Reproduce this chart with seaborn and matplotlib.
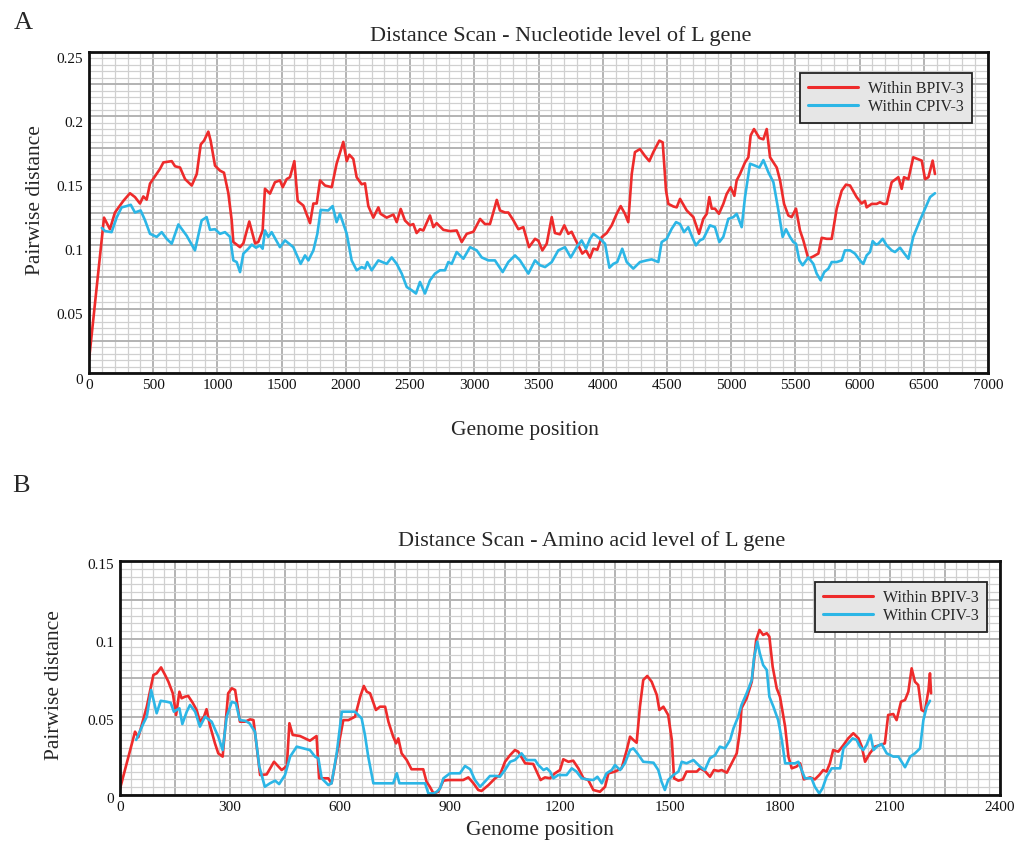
import numpy as np
import pandas as pd
import matplotlib
matplotlib.use("Agg")
import matplotlib.pyplot as plt
import matplotlib.transforms as mtransforms
from matplotlib.ticker import FuncFormatter
import seaborn as sns

# ---------------- data ----------------
series_names = ["Within BPIV-3", "Within CPIV-3"]
series_colors = ["#ee2b2b", "#2cb6e6"]

# Panel A: nucleotide level
a_bpiv_pos = [0, 117, 163, 202, 267, 319, 358, 397, 423, 449, 475, 553, 579, 644, 670, 709, 748, 800, 839, 870,
              896, 929, 947, 981, 1020, 1051, 1085, 1111, 1124, 1176, 1202, 1248, 1293, 1318, 1352, 1370, 1409,
              1448, 1487, 1508, 1539, 1565, 1599, 1625, 1669, 1721, 1747, 1773, 1799, 1838, 1890, 1928, 1980,
              2007, 2027, 2058, 2084, 2123, 2149, 2175, 2214, 2253, 2270, 2318, 2370, 2396, 2427, 2460, 2499,
              2525, 2551, 2577, 2603, 2655, 2681, 2707, 2759, 2811, 2863, 2902, 2941, 2993, 3045, 3083, 3122,
              3148, 3175, 3200, 3239, 3265, 3304, 3343, 3382, 3426, 3473, 3499, 3530, 3564, 3603, 3628, 3667,
              3701, 3732, 3758, 3784, 3810, 3841, 3870, 3901, 3927, 3958, 3992, 4031, 4070, 4109, 4140, 4173,
              4199, 4226, 4251, 4290, 4329, 4363, 4394, 4441, 4467, 4493, 4511, 4550, 4576, 4602, 4654, 4706,
              4750, 4783, 4810, 4830, 4849, 4874, 4905, 4939, 4965, 4996, 5025, 5043, 5069, 5108, 5134, 5152,
              5178, 5220, 5251, 5277, 5303, 5355, 5381, 5412, 5445, 5471, 5505, 5536, 5562, 5601, 5640, 5679,
              5705, 5744, 5783, 5822, 5861, 5894, 5926, 5977, 6016, 6042, 6055, 6094, 6133, 6159, 6185, 6211,
              6250, 6302, 6328, 6346, 6380, 6418, 6450, 6484, 6510, 6536, 6569, 6587]
a_bpiv_dist = [0.010, 0.121, 0.112, 0.125, 0.134, 0.140, 0.137, 0.132, 0.1375, 0.135, 0.1475, 0.159, 0.164,
               0.165, 0.161, 0.160, 0.151, 0.146, 0.155, 0.178, 0.181, 0.188, 0.181, 0.1615, 0.1576, 0.156,
               0.140, 0.119, 0.102, 0.098, 0.101, 0.118, 0.101, 0.102, 0.111, 0.1435, 0.1397, 0.1486, 0.150,
               0.1447, 0.151, 0.1525, 0.165, 0.134, 0.1304, 0.1167, 0.132, 0.132, 0.150, 0.146, 0.1447, 0.163,
               0.180, 0.165, 0.170, 0.1667, 0.1525, 0.147, 0.1477, 0.130, 0.121, 0.129, 0.124, 0.121, 0.1234,
               0.1175, 0.1278, 0.1188, 0.115, 0.116, 0.109, 0.112, 0.111, 0.1227, 0.1136, 0.1167, 0.1115,
               0.1105, 0.111, 0.102, 0.1084, 0.110, 0.120, 0.116, 0.116, 0.125, 0.1348, 0.1266, 0.125, 0.125,
               0.119, 0.112, 0.1136, 0.098, 0.1045, 0.103, 0.0955, 0.1007, 0.1214, 0.109, 0.108, 0.115,
               0.1084, 0.110, 0.1045, 0.0994, 0.093, 0.0955, 0.0898, 0.0968, 0.096, 0.1058, 0.109, 0.115,
               0.124, 0.130, 0.124, 0.1175, 0.155, 0.172, 0.1744, 0.169, 0.165, 0.172, 0.181, 0.1796, 0.142,
               0.1317, 0.1297, 0.129, 0.1356, 0.1266, 0.1214, 0.1084, 0.120, 0.124, 0.137, 0.128, 0.128,
               0.124, 0.1317, 0.1394, 0.1447, 0.138, 0.150, 0.155, 0.164, 0.168, 0.185, 0.190, 0.183, 0.182,
               0.190, 0.168, 0.160, 0.150, 0.1317, 0.1227, 0.1214, 0.128, 0.111, 0.1033, 0.089, 0.0908,
               0.093, 0.1053, 0.1045, 0.1045, 0.128, 0.142, 0.1467, 0.146, 0.137, 0.132, 0.134, 0.129,
               0.1317, 0.1317, 0.133, 0.1317, 0.1317, 0.1486, 0.1525, 0.1434, 0.1525, 0.151, 0.168, 0.1667,
               0.1654, 0.151, 0.1525, 0.1654, 0.155]

a_cpiv_pos = [100, 125, 176, 215, 254, 293, 325, 358, 402, 436, 475, 527, 566, 605, 644, 696, 760, 825, 877,
              916, 942, 981, 1020, 1059, 1098, 1124, 1150, 1176, 1202, 1241, 1267, 1300, 1331, 1352, 1370, 1396,
              1422, 1487, 1526, 1591, 1648, 1682, 1708, 1747, 1778, 1804, 1863, 1897, 1928, 1954, 2007, 2045,
              2084, 2123, 2149, 2167, 2201, 2253, 2318, 2357, 2396, 2435, 2474, 2513, 2546, 2577, 2616, 2655,
              2694, 2733, 2772, 2798, 2824, 2863, 2915, 2967, 3019, 3058, 3109, 3161, 3221, 3265, 3317, 3356,
              3421, 3473, 3512, 3551, 3603, 3654, 3706, 3751, 3797, 3836, 3870, 3901, 3927, 3979, 4018, 4052,
              4083, 4113, 4152, 4187, 4238, 4290, 4342, 4381, 4433, 4459, 4498, 4537, 4571, 4602, 4633, 4666,
              4700, 4726, 4757, 4783, 4835, 4874, 4908, 4939, 4978, 5017, 5043, 5082, 5108, 5147, 5186, 5220,
              5251, 5290, 5329, 5368, 5401, 5427, 5458, 5484, 5505, 5531, 5557, 5601, 5640, 5666, 5697, 5725,
              5757, 5783, 5822, 5861, 5886, 5926, 5964, 6003, 6029, 6055, 6081, 6102, 6128, 6146, 6180, 6211,
              6250, 6276, 6315, 6346, 6380, 6418, 6470, 6510, 6549, 6587]
a_cpiv_dist = [0.113, 0.1105, 0.1097, 0.121, 0.129, 0.130, 0.131, 0.125, 0.1266, 0.119, 0.1084, 0.106,
               0.1097, 0.1045, 0.1007, 0.1157, 0.107, 0.0955, 0.1188, 0.1214, 0.1115, 0.112, 0.1084, 0.1097,
               0.106, 0.0877, 0.0864, 0.0786, 0.093, 0.0968, 0.100, 0.0976, 0.0994, 0.0968, 0.111, 0.106,
               0.1097, 0.098, 0.1033, 0.098, 0.085, 0.0916, 0.0877, 0.0955, 0.1084, 0.127, 0.1266, 0.130,
               0.1175, 0.124, 0.1084, 0.0877, 0.080, 0.0825, 0.0813, 0.0864, 0.080, 0.0877, 0.085, 0.090,
               0.085, 0.0774, 0.067, 0.0644, 0.0619, 0.0709, 0.0619, 0.0722, 0.0774, 0.080, 0.080, 0.0864,
               0.085, 0.0942, 0.089, 0.098, 0.0955, 0.090, 0.0877, 0.0877, 0.0786, 0.0864, 0.0916, 0.0877,
               0.0774, 0.0877, 0.0839, 0.0825, 0.0864, 0.0955, 0.098, 0.090, 0.098, 0.1033, 0.0968, 0.1045,
               0.1084, 0.1045, 0.1007, 0.082, 0.085, 0.0864, 0.0968, 0.0864, 0.0813, 0.0864, 0.0877, 0.0885,
               0.0864, 0.102, 0.1045, 0.1123, 0.1175, 0.116, 0.1097, 0.1136, 0.105, 0.0994, 0.1033, 0.1045,
               0.115, 0.1136, 0.102, 0.106, 0.120, 0.1214, 0.124, 0.1136, 0.137, 0.163, 0.1615, 0.160,
               0.1658, 0.1563, 0.1486, 0.1266, 0.106, 0.112, 0.106, 0.102, 0.1007, 0.0877, 0.0839, 0.090,
               0.085, 0.0774, 0.0722, 0.0786, 0.0813, 0.0864, 0.0864, 0.0877, 0.0955, 0.0955, 0.093, 0.0877,
               0.085, 0.0916, 0.0942, 0.1027, 0.100, 0.1007, 0.1045, 0.0994, 0.0955, 0.0942, 0.0976, 0.0934,
               0.089, 0.106, 0.1188, 0.128, 0.137, 0.140]

# Panel B: amino acid level
b_bpiv_pos = [0, 41, 50, 73, 91, 100, 112, 123, 132, 144, 153, 162, 168, 177, 186, 198, 209, 218, 229, 236,
              245, 259, 268, 280, 295, 305, 314, 327, 341, 355, 364, 374, 382, 400, 420, 441, 455, 462, 471,
              491, 518, 536, 543, 568, 577, 591, 609, 623, 641, 655, 665, 673, 682, 698, 709, 723, 732, 745,
              753, 759, 768, 782, 795, 827, 836, 845, 855, 868, 882, 895, 936, 950, 964, 977, 986, 1005, 1023,
              1036, 1050, 1064, 1077, 1086, 1105, 1127, 1147, 1159, 1173, 1186, 1200, 1209, 1223, 1236, 1250,
              1264, 1277, 1291, 1309, 1323, 1332, 1350, 1368, 1382, 1391, 1400, 1409, 1418, 1427, 1438, 1450,
              1464, 1471, 1482, 1495, 1505, 1511, 1523, 1535, 1545, 1573, 1582, 1595, 1609, 1620, 1632, 1641,
              1655, 1668, 1682, 1691, 1695, 1709, 1723, 1735, 1744, 1754, 1764, 1771, 1780, 1791, 1800, 1814,
              1823, 1832, 1845, 1855, 1865, 1882, 1895, 1907, 1918, 1927, 1936, 1945, 1959, 1973, 1986, 2000,
              2014, 2023, 2032, 2045, 2059, 2073, 2086, 2095, 2109, 2118, 2130, 2141, 2150, 2159, 2168, 2177,
              2186, 2195, 2205, 2209, 2212]
b_bpiv_dist = [0.004, 0.0406, 0.037, 0.0566, 0.0769, 0.078, 0.0818, 0.0769, 0.0726, 0.0652, 0.0513, 0.0662,
               0.062, 0.063, 0.0635, 0.0592, 0.0545, 0.047, 0.0502, 0.055, 0.0449, 0.0331, 0.0267, 0.0246,
               0.0652, 0.0684, 0.0673, 0.047, 0.047, 0.0485, 0.048, 0.0288, 0.0128, 0.0132, 0.0213, 0.016,
               0.0186, 0.046, 0.0385, 0.0378, 0.0348, 0.0378, 0.0107, 0.0107, 0.0075, 0.0256, 0.048, 0.048,
               0.0502, 0.063, 0.0699, 0.0662, 0.0652, 0.0545, 0.0566, 0.0566, 0.047, 0.0374, 0.0331, 0.0363,
               0.0267, 0.0224, 0.0165, 0.0165, 0.0085, 0.0053, 0.001, 0.0021, 0.0092, 0.0096, 0.0096, 0.0113,
               0.0075, 0.0032, 0.0026, 0.0064, 0.0107, 0.0128, 0.0213, 0.0256, 0.0288, 0.0278, 0.0203, 0.0199,
               0.0096, 0.0113, 0.0107, 0.0139, 0.016, 0.0229, 0.0213, 0.022, 0.0171, 0.0107, 0.0096, 0.0032,
               0.0021, 0.0053, 0.0139, 0.015, 0.0171, 0.0288, 0.0374, 0.0353, 0.0335, 0.0566, 0.0737, 0.0763,
               0.0726, 0.0641, 0.0545, 0.0566, 0.0513, 0.0353, 0.0107, 0.0092, 0.010, 0.015, 0.015, 0.0171,
               0.0154, 0.0117, 0.016, 0.0154, 0.016, 0.0143, 0.0203, 0.0267, 0.0417, 0.0556, 0.062, 0.0726,
               0.0994, 0.1058, 0.1026, 0.1037, 0.1015, 0.0822, 0.0684, 0.063, 0.0438, 0.0246, 0.0171, 0.0182,
               0.0203, 0.010, 0.0113, 0.010, 0.0128, 0.016, 0.015, 0.0203, 0.0288, 0.0278, 0.032, 0.0363,
               0.0396, 0.0363, 0.031, 0.0213, 0.0267, 0.031, 0.032, 0.0331, 0.0513, 0.0519, 0.048, 0.0598,
               0.0609, 0.0662, 0.0812, 0.0726, 0.0705, 0.0545, 0.0534, 0.0673, 0.078, 0.0652]

b_cpiv_pos = [44, 64, 73, 85, 100, 111, 127, 138, 147, 162, 170, 182, 191, 205, 218, 232, 250, 268, 280, 291,
              305, 316, 327, 341, 353, 368, 380, 395, 409, 423, 434, 450, 464, 482, 500, 518, 532, 541, 550,
              568, 577, 591, 605, 623, 641, 659, 668, 677, 691, 745, 755, 762, 832, 841, 855, 864, 873, 882,
              900, 927, 941, 955, 968, 982, 995, 1009, 1027, 1036, 1050, 1064, 1077, 1095, 1109, 1132, 1141,
              1155, 1164, 1173, 1182, 1195, 1218, 1232, 1245, 1259, 1273, 1291, 1302, 1314, 1327, 1341, 1350,
              1364, 1377, 1391, 1400, 1411, 1427, 1455, 1468, 1477, 1486, 1495, 1509, 1523, 1532, 1545, 1564,
              1582, 1595, 1609, 1623, 1636, 1650, 1664, 1673, 1686, 1695, 1709, 1723, 1729, 1738, 1745, 1754,
              1764, 1771, 1782, 1795, 1805, 1814, 1827, 1841, 1850, 1859, 1868, 1886, 1895, 1907, 1916, 1927,
              1941, 1964, 1973, 1986, 1998, 2009, 2018, 2027, 2036, 2047, 2055, 2064, 2077, 2091, 2109, 2123,
              2141, 2155, 2168, 2182, 2191, 2200, 2209]
b_cpiv_dist = [0.0353, 0.046, 0.0502, 0.0673, 0.0524, 0.0604, 0.0598, 0.0592, 0.0534, 0.0556, 0.0455,
               0.0534, 0.0577, 0.0534, 0.0438, 0.0502, 0.047, 0.0374, 0.0288, 0.0502, 0.0598, 0.0588, 0.048,
               0.0476, 0.046, 0.0406, 0.0182, 0.0053, 0.0075, 0.0092, 0.007, 0.0128, 0.0246, 0.031, 0.0299,
               0.0288, 0.0246, 0.0235, 0.0107, 0.0064, 0.0075, 0.0267, 0.0534, 0.0534, 0.0534, 0.0491, 0.0385,
               0.0246, 0.0075, 0.0075, 0.0139, 0.0075, 0.0075, 0.001, 0.001, 0.0021, 0.0043, 0.0107, 0.0139,
               0.0139, 0.0186, 0.0165, 0.0096, 0.0053, 0.0085, 0.0122, 0.0122, 0.0117, 0.016, 0.0213, 0.0224,
               0.0267, 0.0224, 0.0224, 0.0192, 0.016, 0.0171, 0.015, 0.0107, 0.0128, 0.0128, 0.0171, 0.015,
               0.0107, 0.010, 0.0096, 0.0117, 0.0075, 0.0139, 0.016, 0.0192, 0.016, 0.0203, 0.0288, 0.0299,
               0.0267, 0.0213, 0.0207, 0.016, 0.0085, 0.0032, 0.0096, 0.0128, 0.015, 0.0213, 0.0203, 0.0224,
               0.0182, 0.016, 0.0235, 0.0256, 0.031, 0.0299, 0.0353, 0.0427, 0.0502, 0.0577, 0.0652, 0.0737,
               0.0876, 0.0983, 0.0908, 0.0833, 0.0801, 0.063, 0.0566, 0.048, 0.0353, 0.0203, 0.0203, 0.0203,
               0.0213, 0.016, 0.0107, 0.0107, 0.0053, 0.001, 0.0043, 0.0117, 0.0171, 0.0171, 0.0299, 0.0331,
               0.0363, 0.0353, 0.031, 0.0288, 0.032, 0.0385, 0.0288, 0.031, 0.0327, 0.0267, 0.0246, 0.0246,
               0.0178, 0.0246, 0.0267, 0.0299, 0.048, 0.0566, 0.0604]

a_xticks = list(range(0, 7001, 500))
a_yticks = [0, 0.05, 0.1, 0.15, 0.2, 0.25]
b_xticks = list(range(0, 2401, 300))
b_yticks = [0, 0.05, 0.1, 0.15]

# ---------------- style ----------------
sns.set_style("white")
plt.rcParams["font.family"] = ["Liberation Serif", "DejaVu Serif"]

W, H = 1018, 843
fig = plt.figure(figsize=(W / 100, H / 100), dpi=100)


def px_box(left, top, right, bottom):
    return [left / W, 1 - bottom / H, (right - left) / W, (bottom - top) / H]


def long_frame(pos1, val1, pos2, val2):
    return pd.concat([
        pd.DataFrame({"pos": pos1, "dist": val1, "series": series_names[0]}),
        pd.DataFrame({"pos": pos2, "dist": val2, "series": series_names[1]}),
    ], ignore_index=True)


def fmt_num(v, _):
    s = ("%.2f" % v).rstrip("0").rstrip(".")
    return s if s else "0"


def draw_panel(ax, df, xmax, ymax, xticks, yticks, xminor, xmajor_grid, legend_anchor, ylab_shift):
    sns.lineplot(data=df, x="pos", y="dist", hue="series", palette=series_colors,
                 estimator=None, sort=False, linewidth=1.9, ax=ax, legend=True)
    ax.set_xlim(0, xmax)
    ax.set_ylim(0, ymax)
    ax.set_xticks(xticks)
    ax.set_yticks(yticks)
    ax.xaxis.set_major_formatter(FuncFormatter(lambda v, _: "%d" % v))
    ax.yaxis.set_major_formatter(FuncFormatter(fmt_num))
    # grid: heavier lines every 0.025 / major x step, light lines in between
    ax.grid(False)
    for gx in np.arange(0, xmax + 1e-9, xminor):
        major = abs((gx / xmajor_grid) - round(gx / xmajor_grid)) < 1e-6
        ax.axvline(gx, color="#b3b3b3" if major else "#d0d0d0",
                   lw=1.4 if major else 0.9, zorder=0)
    for gy in np.arange(0, ymax + 1e-9, 0.005):
        major = abs((gy / 0.025) - round(gy / 0.025)) < 1e-6
        ax.axhline(gy, color="#b3b3b3" if major else "#d0d0d0",
                   lw=1.4 if major else 0.9, zorder=0)
    ax.tick_params(axis="both", which="both", length=0, labelsize=11, pad=4, colors="#111111")
    ax.set_xlabel("")
    ax.set_ylabel("")
    for s in ax.spines.values():
        s.set_visible(True)
        s.set_color("#111111")
        s.set_linewidth(2.0)
    shift = mtransforms.ScaledTranslation(0, -ylab_shift / 72.0, fig.dpi_scale_trans)
    for lab in ax.get_yticklabels():
        lab.set_transform(lab.get_transform() + shift)
    leg = ax.legend(loc="upper right", bbox_to_anchor=legend_anchor, borderaxespad=0,
                    frameon=True, fancybox=False, framealpha=1, facecolor="#e6e6e6",
                    edgecolor="#222222", fontsize=11.5, handlelength=3.1, handletextpad=0.65,
                    labelspacing=0.12, borderpad=0.5)
    leg.get_frame().set_linewidth(1.3)
    for line in leg.get_lines():
        line.set_linewidth(2.2)


# Panel A
axA = fig.add_axes(px_box(89, 52, 988, 373))
dfA = long_frame(a_bpiv_pos, a_bpiv_dist, a_cpiv_pos, a_cpiv_dist)
draw_panel(axA, dfA, 7000, 0.25, a_xticks, a_yticks, 100, 500, (0.982, 0.935), 4)

# Panel B
axB = fig.add_axes(px_box(120, 561, 1000, 795))
dfB = long_frame(b_bpiv_pos, b_bpiv_dist, b_cpiv_pos, b_cpiv_dist)
draw_panel(axB, dfB, 2400, 0.15, b_xticks, b_yticks, 30, 150, (0.985, 0.91), 2)

# titles, axis labels and panel letters
fig.text(561 / W, 1 - 36 / H, "Distance Scan - Nucleotide level of L gene",
         ha="center", va="center", fontsize=16)
fig.text(592 / W, 1 - 541 / H, "Distance Scan - Amino acid level of L gene",
         ha="center", va="center", fontsize=16)
fig.text(525 / W, 1 - 431 / H, "Genome position", ha="center", va="center", fontsize=15.5)
fig.text(540 / W, 1 - 830 / H, "Genome position", ha="center", va="center", fontsize=15.5)
fig.text(36 / W, 1 - 200 / H, "Pairwise distance", ha="center", va="center",
         rotation=90, fontsize=15.5)
fig.text(55 / W, 1 - 685 / H, "Pairwise distance", ha="center", va="center",
         rotation=90, fontsize=15.5)
fig.text(23 / W, 1 - 23 / H, "A", ha="center", va="center", fontsize=19)
fig.text(21 / W, 1 - 486 / H, "B", ha="center", va="center", fontsize=19)

fig.savefig("out.png", dpi=100, facecolor="white")
